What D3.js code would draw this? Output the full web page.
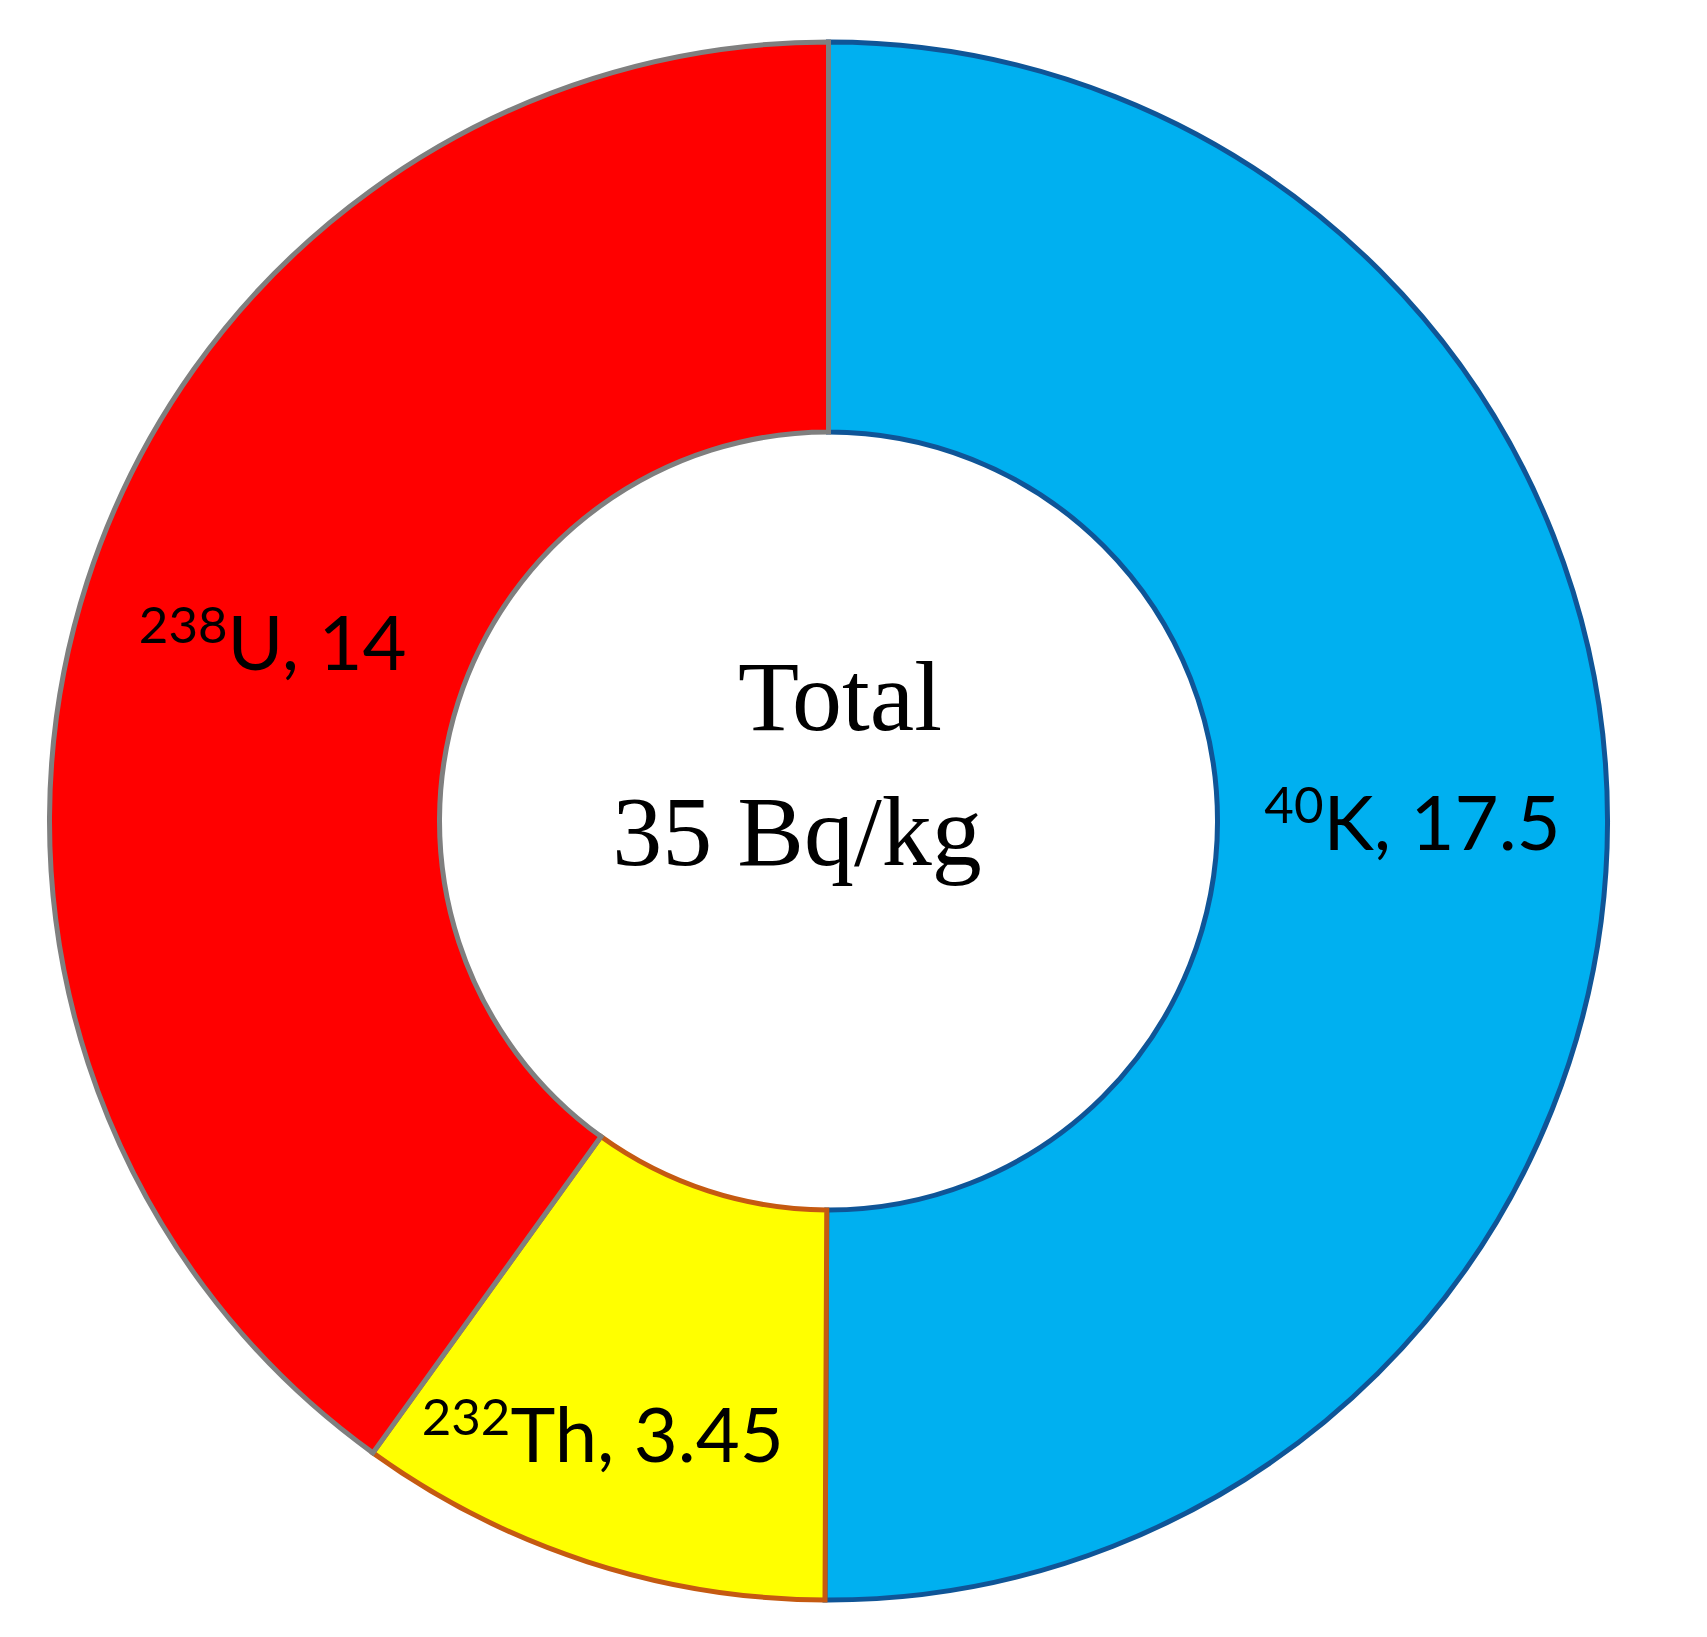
<!DOCTYPE html>
<html><head><meta charset="utf-8">
<script src="https://cdn.jsdelivr.net/npm/d3@7"></script>
<style>html,body{margin:0;padding:0;background:#fff;}</style>
</head><body>
<svg id="chart" width="1707" height="1637"></svg>
<script>
// Data
const isotopes = ["40K", "232Th", "238U"];
const massNumbers = ["40", "232", "238"];
const elements = ["K", "Th", "U"];
const values = [17.5, 3.45, 14];
const valueLabels = ["17.5", "3.45", "14"];
const fills = ["#00B0F0", "#FFFF00", "#FF0000"];
const strokes = ["#0F5597", "#C55A11", "#7F7F7F"];
const centerLines = ["Total", "35 Bq/kg"];

// Layout
const W = 1707, H = 1637;
const cx = 828.5, cy = 821;
const outerR = 779, innerR = 389;
const labelOffsets = [[0, 0], [-45, 58], [0, 0]];

const svg = d3.select("#chart");
const g = svg.append("g").attr("transform", `translate(${cx},${cy})`);

const pie = d3.pie().sort(null).value(d => d.value);
const data = values.map((v, i) => ({value: v, i}));
const arcs = pie(data);
const arc = d3.arc().innerRadius(innerR).outerRadius(outerR);
const labelArc = d3.arc().innerRadius((innerR + outerR) / 2).outerRadius((innerR + outerR) / 2);

g.selectAll("path.slice").data(arcs).enter().append("path")
  .attr("class", "slice")
  .attr("d", arc)
  .attr("fill", d => fills[d.data.i])
  .attr("stroke", d => strokes[d.data.i])
  .attr("stroke-width", 5)
  .attr("stroke-linejoin", "miter");

const mainSize = 76, supSize = 51;
const labels = g.selectAll("text.lbl").data(arcs).enter().append("text")
  .attr("class", "lbl")
  .attr("font-family", "Lato, 'Open Sans', sans-serif")
  .attr("font-size", mainSize)
  .attr("fill", "#000")
  .attr("text-anchor", "middle")
  .attr("transform", d => {
    const c = labelArc.centroid(d);
    const o = labelOffsets[d.data.i];
    return `translate(${c[0] + o[0]},${c[1] + o[1] + 28})`;
  });
labels.append("tspan")
  .attr("font-size", supSize)
  .attr("dy", -27)
  .text(d => massNumbers[d.data.i]);
labels.append("tspan")
  .attr("dy", 27)
  .text(d => elements[d.data.i] + ", " + valueLabels[d.data.i]);

// Center text
const ct = g.append("g")
  .attr("font-family", "'Liberation Serif', 'Times New Roman', serif")
  .attr("font-size", 100)
  .attr("fill", "#000")
  .attr("text-anchor", "middle");
ct.append("text").attr("x", 840 - cx).attr("y", 730 - cy).text(centerLines[0]);
ct.append("text").attr("x", 797 - cx).attr("y", 865 - cy).text(centerLines[1]);
</script>
</body></html>
